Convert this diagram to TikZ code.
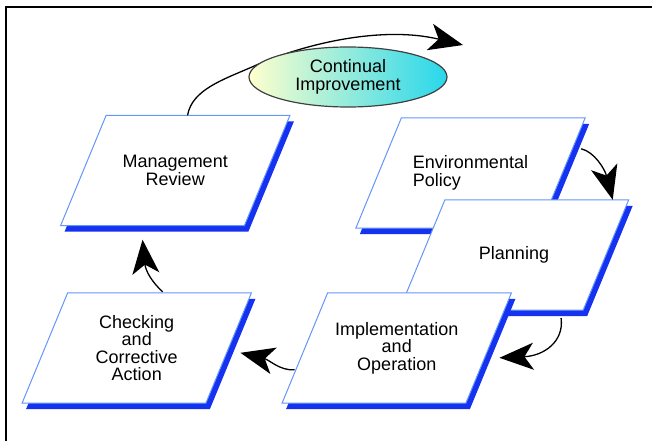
\documentclass[tikz,border=0pt]{standalone}
\usepackage{fontspec}
\newfontfamily\diagfont{Liberation Sans}
\usetikzlibrary{backgrounds,shapes.geometric,arrows.meta}
\definecolor{slabshadow}{RGB}{20,50,240}
\definecolor{slabedge}{RGB}{100,150,250}
\definecolor{ovalleft}{RGB}{255,255,205}
\definecolor{ovalright}{RGB}{40,215,235}
% slanted card with its blue shadow, drawn behind the node text
\newcommand{\drawslab}[1]{%
  \begin{pgfonlayer}{background}
    \fill[slabshadow] ([shift={(49.6,6)}]#1.north west) -- ([shift={(4,6)}]#1.north east)
      -- ([shift={(-41.6,6)}]#1.south east) -- ([shift={(4,6)}]#1.south west) -- cycle;
    \filldraw[draw=slabedge, fill=white, line width=1pt] ([xshift=45.6pt]#1.north west) -- (#1.north east)
      -- ([xshift=-45.6pt]#1.south east) -- (#1.south west) -- cycle;
  \end{pgfonlayer}}
\begin{document}
\begin{tikzpicture}[x=1pt, y=-1pt, >={Stealth[length=34pt,width=27pt,inset=9pt]}]
      % Styles
      \tikzstyle{slab} = [rectangle, minimum width=229pt, minimum height=110pt, inner sep=0pt, align=center,
                          font=\diagfont\fontsize{18}{17.5}\selectfont]
      \tikzstyle{oval} = [ellipse, draw=black!75, line width=1.2pt, left color=ovalleft, right color=ovalright,
                          minimum width=198pt, minimum height=60pt, inner sep=0pt, align=center,
                          font=\diagfont\fontsize{18}{18}\selectfont]
      \tikzstyle{flow} = [->, line width=1.3pt, black]
      \useasboundingbox (0,0) rectangle (652,441);
      \draw[line width=1.3pt] (652,7) -- (6,7) -- (6,441);

      % Nodes
      \node[slab] (mr) at (175.25,170.5) {Management\\Review};
      \node[slab] (ck) at (136.75,348) {Checking\\and\\Corrective\\Action};
      \node[slab, align=left] (ep) at (470.5,173) {Environmental\\Policy};
      \node[slab] (pl) at (514,255) {Planning};
      \node[slab] (impl) at (396.75,348) {Implementation\\and\\Operation};
      \drawslab{mr}
      \drawslab{ck}
      \drawslab{ep}
      \drawslab{pl}
      \drawslab{impl}
      \coordinate (cinext) at (463,45);

      % Arrows
      \draw[flow] ([xshift=127pt]mr.north west) .. controls (192,90) and (222,80) .. (252,67)
                  .. controls (300,45) and (380,25) .. (cinext);
      \node[oval] (ci) at (348,77) {Continual\\Improvement};
      \draw[flow] ([shift={(-4,31)}]ep.north east) .. controls +(13,3) and +(-8,-31) .. ([xshift=-16pt]pl.north east);
      \draw[flow] ([shift={(-67.6,8)}]pl.south east) .. controls +(3,23) and +(45,-2) .. ([shift={(-12,65)}]impl.north east);
      \draw[flow] ([shift={(12.6,77)}]impl.north west) .. controls +(-15,1) and +(29,7) .. ([shift={(-11,60)}]ck.north east);
      \draw[flow] ([shift={(140.6,-1)}]ck.north west) .. controls +(-11,-10) and +(3,31) .. ([shift={(82,14)}]mr.south west);
  \end{tikzpicture}
\end{document}
